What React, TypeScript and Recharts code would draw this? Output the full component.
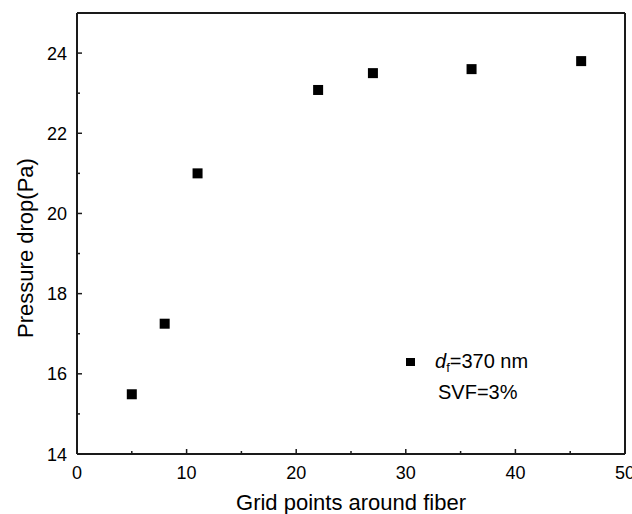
import { ScatterChart, Scatter, XAxis, YAxis, ReferenceLine, Legend } from "recharts";

const gridPoints = [5, 8, 11, 22, 27, 36, 46];
const pressureDrop = [15.49, 17.25, 21.0, 23.08, 23.5, 23.6, 23.8];
const xTicks = [0, 5, 10, 15, 20, 25, 30, 35, 40, 45, 50];
const yTicks = [14, 15, 16, 17, 18, 19, 20, 21, 22, 23, 24];
const xMajor = [0, 10, 20, 30, 40, 50];
const yMajor = [14, 16, 18, 20, 22, 24];

const data = gridPoints.map((x, i) => ({ x, y: pressureDrop[i] }));

const FONT = "'Liberation Sans', Arial, sans-serif";
const AXIS = "#1a1a1a";

function XTick(props: any) {
  const { x, y, payload } = props;
  const major = xMajor.includes(payload.value);
  return (
    <g>
      <line x1={x} x2={x} y1={y} y2={y - (major ? 5 : 3)} stroke={AXIS} strokeWidth={1.5} />
      {major && (
        <text x={x} y={y + 25} textAnchor="middle" fontSize={18} fontFamily={FONT} fill="#000">
          {payload.value}
        </text>
      )}
    </g>
  );
}

function YTick(props: any) {
  const { x, y, payload } = props;
  const major = yMajor.includes(payload.value);
  return (
    <g>
      <line x1={x} x2={x + (major ? 5 : 3)} y1={y} y2={y} stroke={AXIS} strokeWidth={1.5} />
      {major && (
        <text x={x - 10} y={y + 6.5} textAnchor="end" fontSize={18} fontFamily={FONT} fill="#000">
          {payload.value}
        </text>
      )}
    </g>
  );
}

function Square(props: any) {
  const { cx, cy } = props;
  return <rect x={cx - 5} y={cy - 5} width={10} height={10} fill="#000" />;
}

function LegendBox() {
  return (
    <div style={{ position: "relative", width: 160, height: 62, fontFamily: FONT, fontSize: 20, lineHeight: "31px", color: "#000", textAlign: "left" }}>
      <span style={{ position: "absolute", left: 6, top: 12, width: 9, height: 8, background: "#000" }} />
      <div style={{ position: "absolute", left: 35, top: 0, whiteSpace: "nowrap" }}>
        <i>d</i>
        <sub style={{ fontSize: 13, verticalAlign: "-4px", lineHeight: 0 }}>f</sub>=370 nm
      </div>
      <div style={{ position: "absolute", left: 38, top: 31, whiteSpace: "nowrap" }}>SVF=3%</div>
    </div>
  );
}

export default function App() {
  return (
    <div style={{ width: 632, height: 514, background: "#fff" }}>
      <style>{"body{margin:0}"}</style>
      <ScatterChart width={632} height={514} margin={{ top: 13, right: 7, left: 0, bottom: 0 }}>
        <XAxis
          type="number"
          dataKey="x"
          domain={[0, 50]}
          ticks={xTicks}
          interval={0}
          height={60}
          tickSize={0}
          tickMargin={0}
          tick={<XTick />}
          axisLine={{ stroke: AXIS, strokeWidth: 2 }}
          label={{
            content: () => (
              <text x={351} y={510} textAnchor="middle" fontSize={22} fontFamily={FONT} fill="#000">
                Grid points around fiber
              </text>
            ),
          }}
        />
        <YAxis
          type="number"
          dataKey="y"
          domain={[14, 25]}
          ticks={yTicks}
          interval={0}
          width={77}
          tickSize={0}
          tickMargin={0}
          tick={<YTick />}
          axisLine={{ stroke: AXIS, strokeWidth: 2 }}
          label={{
            content: () => (
              <text
                x={33}
                y={248}
                transform="rotate(-90, 33, 248)"
                textAnchor="middle"
                fontSize={22}
                fontFamily={FONT}
                fill="#000"
              >
                Pressure drop(Pa)
              </text>
            ),
          }}
        />
        <ReferenceLine y={25} stroke={AXIS} strokeWidth={2} />
        <ReferenceLine x={50} stroke={AXIS} strokeWidth={2} />
        <Scatter data={data} fill="#000" shape={<Square />} isAnimationActive={false} />
        <Legend
          layout="horizontal"
          verticalAlign="middle"
          align="center"
          content={<LegendBox />}
          wrapperStyle={{ position: "absolute", left: 400, top: 346, width: 160, bottom: "auto", right: "auto" }}
        />
      </ScatterChart>
    </div>
  );
}
